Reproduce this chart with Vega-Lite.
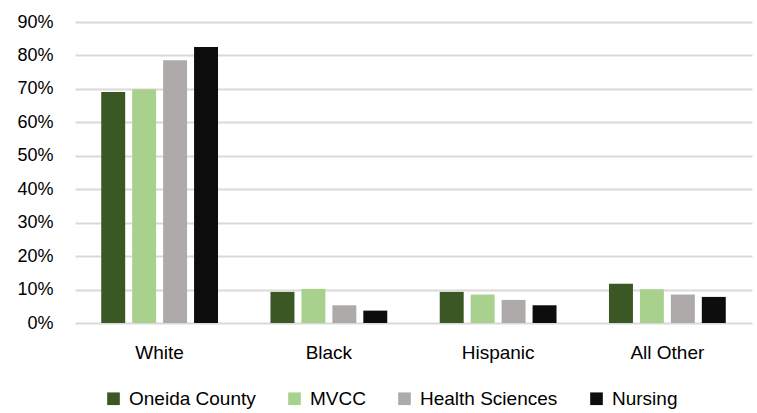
{
  "$schema": "https://vega.github.io/schema/vega-lite/v6.json",
  "width": 677,
  "height": 301,
  "autosize": {"type": "none"},
  "padding": {"left": 75, "top": 22, "right": 5, "bottom": 90},
  "background": "white",
  "config": {
    "view": {"stroke": null},
    "font": "Liberation Sans",
    "axis": {"labelFont": "Liberation Sans", "labelColor": "#000000"}
  },
  "data": {
    "values": [
      {"group": "White", "series": "Oneida County", "value": 0.691},
      {"group": "White", "series": "MVCC", "value": 0.699},
      {"group": "White", "series": "Health Sciences", "value": 0.786},
      {"group": "White", "series": "Nursing", "value": 0.825},
      {"group": "Black", "series": "Oneida County", "value": 0.093},
      {"group": "Black", "series": "MVCC", "value": 0.102},
      {"group": "Black", "series": "Health Sciences", "value": 0.053},
      {"group": "Black", "series": "Nursing", "value": 0.037},
      {"group": "Hispanic", "series": "Oneida County", "value": 0.093},
      {"group": "Hispanic", "series": "MVCC", "value": 0.085},
      {"group": "Hispanic", "series": "Health Sciences", "value": 0.069},
      {"group": "Hispanic", "series": "Nursing", "value": 0.053},
      {"group": "All Other", "series": "Oneida County", "value": 0.117},
      {"group": "All Other", "series": "MVCC", "value": 0.101},
      {"group": "All Other", "series": "Health Sciences", "value": 0.085},
      {"group": "All Other", "series": "Nursing", "value": 0.078}
    ]
  },
  "mark": {"type": "bar"},
  "encoding": {
    "x": {
      "field": "group",
      "type": "nominal",
      "sort": ["White", "Black", "Hispanic", "All Other"],
      "scale": {"paddingInner": 0.31, "paddingOuter": 0.155},
      "axis": {
        "title": null,
        "labelAngle": 0,
        "domain": false,
        "ticks": false,
        "labelFontSize": 19,
        "labelPadding": 20
      }
    },
    "xOffset": {
      "field": "series",
      "type": "nominal",
      "sort": ["Oneida County", "MVCC", "Health Sciences", "Nursing"],
      "scale": {"paddingInner": 0.226, "paddingOuter": 0}
    },
    "y": {
      "field": "value",
      "type": "quantitative",
      "scale": {"domain": [0, 0.9], "nice": false},
      "axis": {
        "title": null,
        "format": ".0%",
        "values": [0, 0.1, 0.2, 0.3, 0.4, 0.5, 0.6, 0.7, 0.8, 0.9],
        "domain": false,
        "ticks": false,
        "labelFontSize": 18,
        "labelPadding": 22,
        "gridColor": "#D9D9D9",
        "gridWidth": 2
      }
    },
    "color": {
      "field": "series",
      "type": "nominal",
      "sort": ["Oneida County", "MVCC", "Health Sciences", "Nursing"],
      "scale": {
        "domain": ["Oneida County", "MVCC", "Health Sciences", "Nursing"],
        "range": ["#3A5724", "#A9D18E", "#AEAAAA", "#0D0D0D"]
      },
      "legend": {
        "title": null,
        "orient": "none",
        "direction": "horizontal",
        "legendX": 29,
        "legendY": 367,
        "symbolType": "square",
        "symbolSize": 160,
        "symbolStrokeWidth": 0,
        "labelFontSize": 19,
        "labelOffset": 6,
        "columnPadding": 29,
        "labelColor": "#000000"
      }
    }
  }
}
